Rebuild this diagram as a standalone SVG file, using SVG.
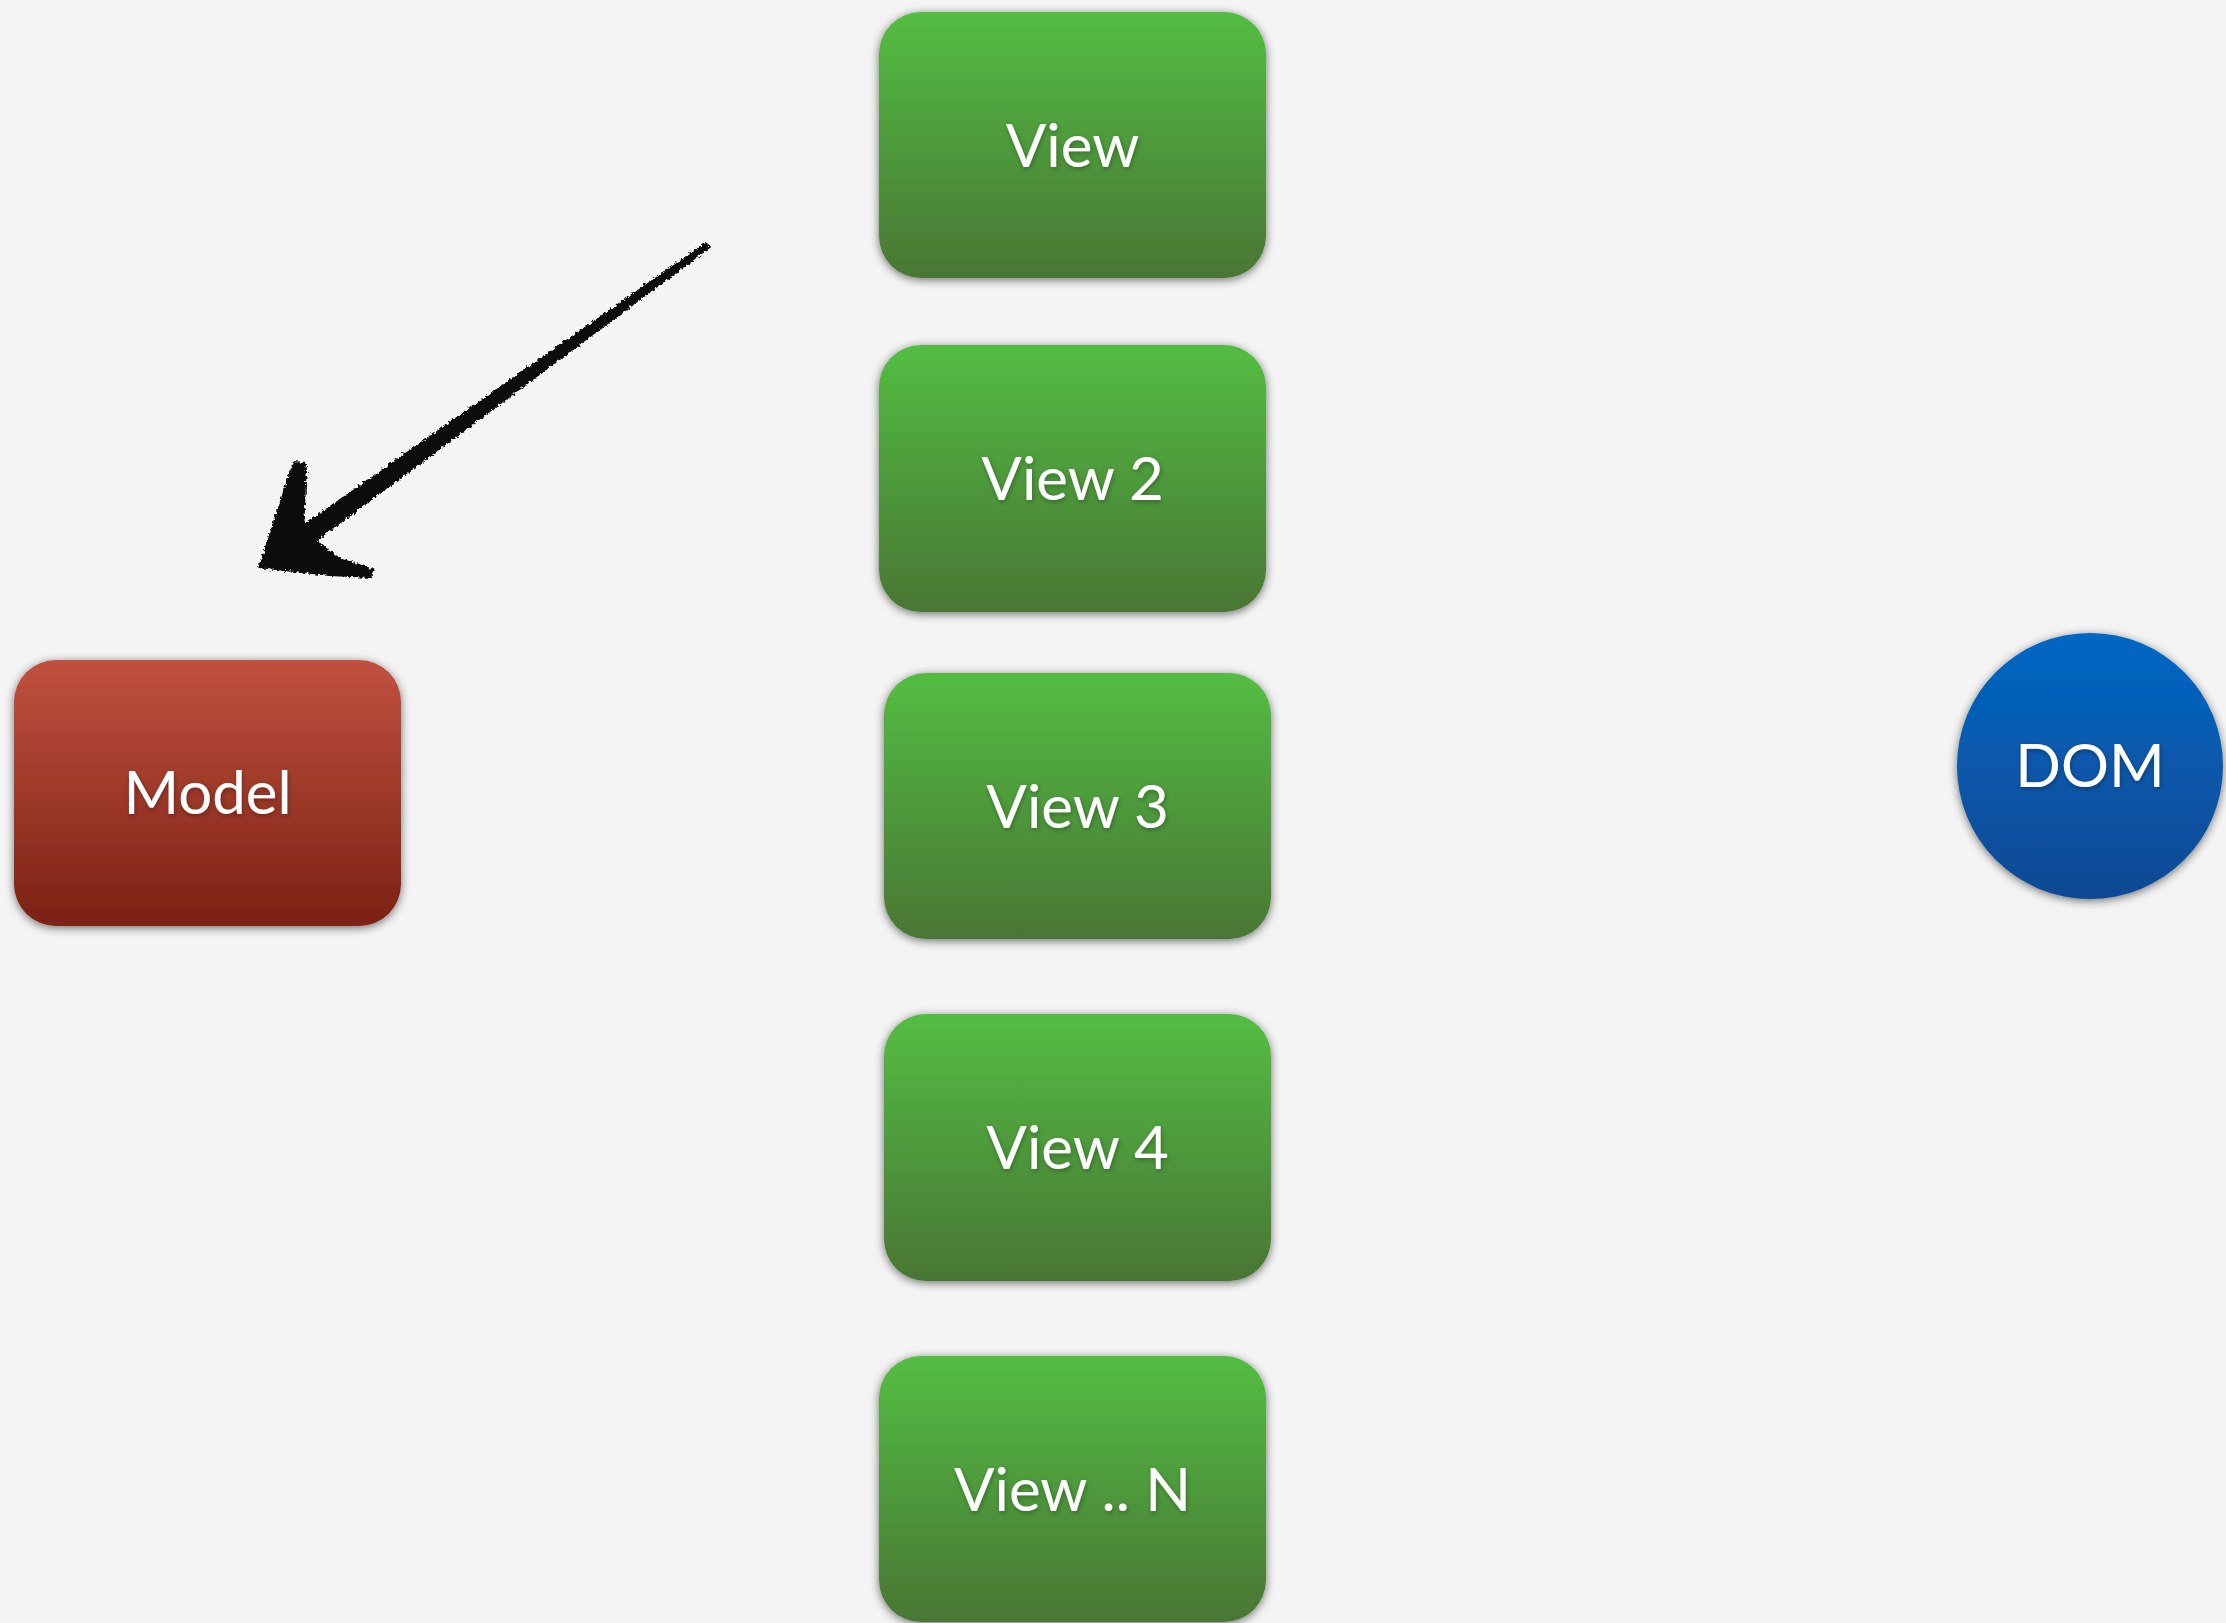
<svg xmlns="http://www.w3.org/2000/svg" width="2226" height="1623" viewBox="0 0 2226 1623">
  <defs>
    <linearGradient id="gGreen" x1="0" y1="0" x2="0" y2="1">
      <stop offset="0" stop-color="#53bd43"/>
      <stop offset="1" stop-color="#4a7634"/>
    </linearGradient>
    <linearGradient id="gRed" x1="0" y1="0" x2="0" y2="1">
      <stop offset="0" stop-color="#c1513f"/>
      <stop offset="1" stop-color="#7b2114"/>
    </linearGradient>
    <linearGradient id="gBlue" x1="0" y1="0" x2="0" y2="1">
      <stop offset="0" stop-color="#0467c3"/>
      <stop offset="1" stop-color="#0b4993"/>
    </linearGradient>
    <filter id="shadow" x="-10%" y="-10%" width="120%" height="125%">
      <feDropShadow dx="0" dy="2" stdDeviation="5" flood-color="#000" flood-opacity="0.55"/>
    </filter>
    <filter id="tshadow" x="-10%" y="-20%" width="120%" height="150%">
      <feDropShadow dx="1" dy="2" stdDeviation="2.5" flood-color="#000" flood-opacity="0.3"/>
    </filter>
    <filter id="rough" x="-5%" y="-5%" width="110%" height="110%">
      <feTurbulence type="fractalNoise" baseFrequency="0.35" numOctaves="2" seed="3" result="n"/>
      <feDisplacementMap in="SourceGraphic" in2="n" scale="6" xChannelSelector="R" yChannelSelector="G"/>
    </filter>
  </defs>
  <style>
    .box { filter: url(#shadow); }
    .lbl { font-family: "Lato", "Open Sans", "Liberation Sans", sans-serif; font-size: 60px; fill: #ffffff; text-anchor: middle; filter: url(#tshadow); }
  </style>
  <rect width="2226" height="1623" fill="#f4f4f4"/>

  <g id="connectors">
    <g id="arrow" fill="#0a0a0a" filter="url(#rough)">
      <path d="M706,242 L710,248 L306,549 L294,531 Z"/>
      <path d="M258,568 L293,462 L307,463 L304,531 L340,558 L374,569 L371,578 L330,576 Z"/>
    </g>
  </g>

  <g id="model">
    <rect class="box" x="14" y="660" width="387" height="266" rx="42" fill="url(#gRed)"/>
    <text class="lbl" x="207.5" y="814">Model</text>
  </g>

  <g id="view1">
    <rect class="box" x="879" y="12" width="387" height="266" rx="42" fill="url(#gGreen)"/>
    <text class="lbl" x="1072.5" y="167">View</text>
  </g>

  <g id="view2">
    <rect class="box" x="879" y="345" width="387" height="267" rx="42" fill="url(#gGreen)"/>
    <text class="lbl" x="1072.5" y="500">View 2</text>
  </g>

  <g id="view3">
    <rect class="box" x="884" y="673" width="387" height="266" rx="42" fill="url(#gGreen)"/>
    <text class="lbl" x="1077.5" y="828">View 3</text>
  </g>

  <g id="view4">
    <rect class="box" x="884" y="1014" width="387" height="267" rx="42" fill="url(#gGreen)"/>
    <text class="lbl" x="1077.5" y="1169">View 4</text>
  </g>

  <g id="viewN">
    <rect class="box" x="879" y="1356" width="387" height="266" rx="42" fill="url(#gGreen)"/>
    <text class="lbl" x="1072.5" y="1511">View .. N</text>
  </g>

  <g id="dom">
    <circle class="box" cx="2090" cy="766" r="133" fill="url(#gBlue)"/>
    <text class="lbl" x="2090" y="787">DOM</text>
  </g>
</svg>
